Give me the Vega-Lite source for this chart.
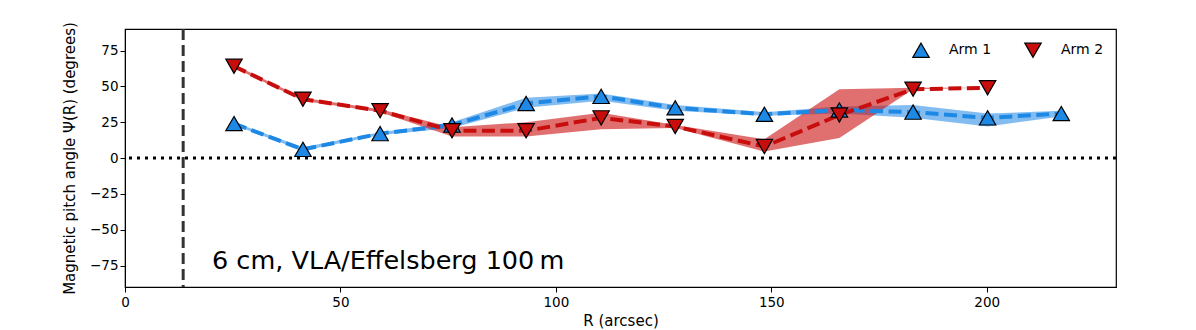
{
  "$schema": "https://vega.github.io/schema/vega-lite/v6.json",
  "width": 991,
  "height": 258,
  "autosize": {"type": "none"},
  "padding": {"left": 125, "top": 29, "right": 80, "bottom": 43},
  "background": "white",
  "config": {
    "font": "DejaVu Sans",
    "view": {"stroke": "black", "strokeWidth": 1.2},
    "axis": {
      "labelFont": "DejaVu Sans",
      "labelFontSize": 13.5,
      "labelColor": "#000000",
      "titleFont": "DejaVu Sans",
      "titleFontSize": 15,
      "titleFontWeight": "normal",
      "titleColor": "#000000",
      "tickColor": "#000000",
      "domainColor": "#000000",
      "tickSize": 5,
      "grid": false,
      "labelFlush": false
    },
    "legend": {
      "labelFont": "DejaVu Sans",
      "labelFontSize": 14,
      "labelColor": "#000000"
    }
  },
  "datasets": {
    "arms": [
      {"arm": "Arm 1", "R": 25.3, "psi": 24, "lo": 23, "hi": 25},
      {"arm": "Arm 1", "R": 41.3, "psi": 6, "lo": 5, "hi": 7.5},
      {"arm": "Arm 1", "R": 59.2, "psi": 17, "lo": 16, "hi": 18},
      {"arm": "Arm 1", "R": 75.9, "psi": 23, "lo": 21, "hi": 25},
      {"arm": "Arm 1", "R": 93.1, "psi": 38, "lo": 35, "hi": 42},
      {"arm": "Arm 1", "R": 110.5, "psi": 43, "lo": 40, "hi": 45},
      {"arm": "Arm 1", "R": 127.7, "psi": 35, "lo": 33, "hi": 37},
      {"arm": "Arm 1", "R": 148.4, "psi": 30.5, "lo": 29.5, "hi": 32},
      {"arm": "Arm 1", "R": 165.8, "psi": 33.5, "lo": 31, "hi": 36},
      {"arm": "Arm 1", "R": 182.9, "psi": 32, "lo": 28, "hi": 37},
      {"arm": "Arm 1", "R": 200.2, "psi": 28, "lo": 22, "hi": 31},
      {"arm": "Arm 1", "R": 217.3, "psi": 31, "lo": 29, "hi": 33},
      {"arm": "Arm 2", "R": 25.3, "psi": 64, "lo": 63, "hi": 65},
      {"arm": "Arm 2", "R": 41.3, "psi": 41, "lo": 40, "hi": 42},
      {"arm": "Arm 2", "R": 59.2, "psi": 33, "lo": 32, "hi": 34},
      {"arm": "Arm 2", "R": 75.9, "psi": 19, "lo": 15, "hi": 21.5},
      {"arm": "Arm 2", "R": 93.1, "psi": 19, "lo": 15, "hi": 25},
      {"arm": "Arm 2", "R": 110.5, "psi": 28, "lo": 20, "hi": 31.5},
      {"arm": "Arm 2", "R": 127.7, "psi": 22, "lo": 21, "hi": 23},
      {"arm": "Arm 2", "R": 148.4, "psi": 8, "lo": 4.5, "hi": 13},
      {"arm": "Arm 2", "R": 165.8, "psi": 30, "lo": 14, "hi": 48},
      {"arm": "Arm 2", "R": 182.9, "psi": 48, "lo": 48, "hi": 49},
      {"arm": "Arm 2", "R": 200.2, "psi": 49, "lo": 49, "hi": 49}
    ],
    "vline": [{"R": 13.5}],
    "hline": [{"psi": 0}],
    "label": [{"R": 20.2, "psi": -77.5, "text": "6 cm, VLA/Effelsberg 100\u2009m"}]
  },
  "layer": [
    {
      "data": {"name": "vline"},
      "mark": {"type": "rule", "color": "#333333", "strokeWidth": 3, "strokeDash": [11, 5]},
      "encoding": {
        "x": {"field": "R", "type": "quantitative", "scale": {"domain": [0, 230], "nice": false, "zero": false},
              "axis": {"values": [0, 50, 100, 150, 200], "title": "R (arcsec)", "labelPadding": 3, "titlePadding": 5}}
      }
    },
    {
      "data": {"name": "hline"},
      "mark": {"type": "rule", "color": "#000000", "strokeWidth": 3, "strokeDash": [3, 5]},
      "encoding": {
        "y": {"field": "psi", "type": "quantitative", "scale": {"domain": [-90, 90], "nice": false},
              "axis": {"values": [-75, -50, -25, 0, 25, 50, 75], "title": "Magnetic pitch angle Ψ(R) (degrees)", "labelPadding": 2, "titlePadding": 12}}
      }
    },
    {
      "data": {"name": "arms"},
      "mark": {"type": "area", "fillOpacity": 0.6},
      "encoding": {
        "x": {"field": "R", "type": "quantitative"},
        "y": {"field": "lo", "type": "quantitative", "stack": null},
        "y2": {"field": "hi"},
        "fill": {"field": "arm", "type": "nominal", "scale": {"domain": ["Arm 2", "Arm 1"], "range": ["#cc1111", "#2f8fe6"]}, "legend": null}
      }
    },
    {
      "data": {"name": "arms"},
      "mark": {"type": "line", "strokeWidth": 4, "strokeDash": [13, 5.5]},
      "encoding": {
        "x": {"field": "R", "type": "quantitative"},
        "y": {"field": "psi", "type": "quantitative"},
        "stroke": {"field": "arm", "type": "nominal", "scale": {"domain": ["Arm 2", "Arm 1"], "range": ["#c80d0d", "#1e88e5"]}, "legend": null}
      }
    },
    {
      "data": {"name": "arms"},
      "mark": {"type": "point", "filled": true, "size": 270, "stroke": "#000000", "strokeWidth": 1.2, "opacity": 1},
      "encoding": {
        "x": {"field": "R", "type": "quantitative"},
        "y": {"field": "psi", "type": "quantitative"},
        "color": {"field": "arm", "type": "nominal", "title": null,
                  "scale": {"domain": ["Arm 1", "Arm 2"], "range": ["#1e88e5", "#c80d0d"]},
                  "legend": {"orient": "top-right", "offset": 12, "direction": "horizontal",
                             "symbolSize": 270, "labelOffset": 19, "columnPadding": 30,
                             "symbolStrokeColor": "#000000", "symbolStrokeWidth": 1.2, "symbolOpacity": 1}},
        "shape": {"field": "arm", "type": "nominal", "title": null, "scale": {"domain": ["Arm 1", "Arm 2"], "range": ["triangle-up", "triangle-down"]}}
      }
    },
    {
      "data": {"name": "label"},
      "mark": {"type": "text", "align": "left", "baseline": "alphabetic", "fontSize": 25.5, "font": "DejaVu Sans", "color": "#000000"},
      "encoding": {
        "x": {"field": "R", "type": "quantitative"},
        "y": {"field": "psi", "type": "quantitative"},
        "text": {"field": "text"}
      }
    }
  ]
}
